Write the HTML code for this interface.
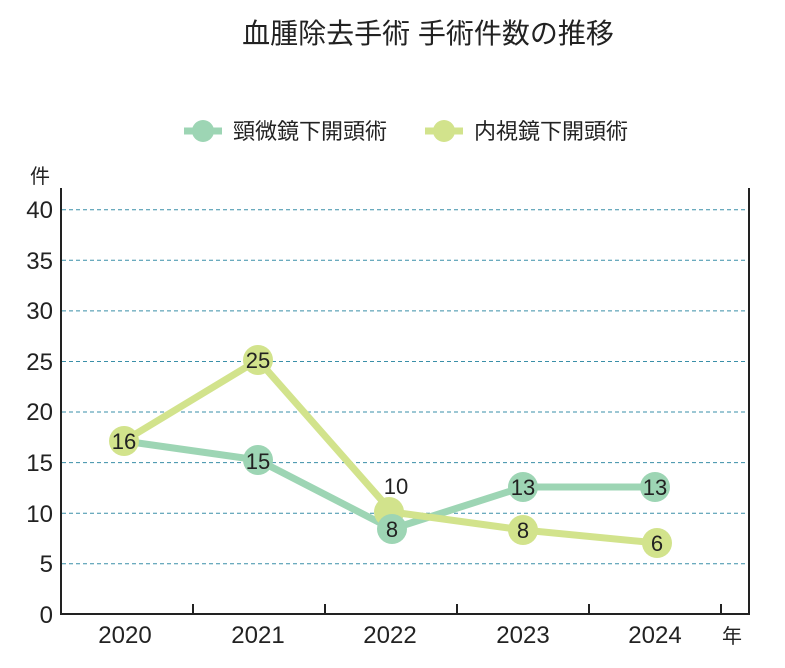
<!DOCTYPE html>
<html><head><meta charset="utf-8"><style>
body{margin:0;background:#fff}
svg text{font-family:"Liberation Sans","Noto Sans CJK JP",sans-serif;fill:#222}
</style></head><body>
<svg width="785" height="663" viewBox="0 0 785 663" xmlns="http://www.w3.org/2000/svg">
<text x="428" y="43" font-size="28" text-anchor="middle">血腫除去手術 手術件数の推移</text>
<line x1="184" y1="131" x2="222" y2="131" stroke="#9dd5b4" stroke-width="7"/>
<circle cx="203" cy="131" r="11" fill="#9dd5b4"/>
<text x="233" y="139" font-size="22">頸微鏡下開頭術</text>
<line x1="425" y1="131" x2="463" y2="131" stroke="#d2e38c" stroke-width="7"/>
<circle cx="444" cy="131" r="11" fill="#d2e38c"/>
<text x="474" y="139" font-size="22">内視鏡下開頭術</text>
<text x="30" y="183" font-size="20">件</text>
<g stroke="#3a8fa8" stroke-width="1" stroke-dasharray="4,3">
<line x1="62" x2="748" y1="209.7" y2="209.7"/><line x1="62" x2="748" y1="260.3" y2="260.3"/>
<line x1="62" x2="748" y1="310.9" y2="310.9"/><line x1="62" x2="748" y1="361.5" y2="361.5"/>
<line x1="62" x2="748" y1="412" y2="412"/><line x1="62" x2="748" y1="462.6" y2="462.6"/>
<line x1="62" x2="748" y1="513.2" y2="513.2"/><line x1="62" x2="748" y1="563.8" y2="563.8"/>
</g>
<g font-size="24" text-anchor="end">
<text x="53" y="218">40</text><text x="53" y="269">35</text><text x="53" y="319">30</text>
<text x="53" y="370">25</text><text x="53" y="420">20</text><text x="53" y="471">15</text>
<text x="53" y="522">10</text><text x="53" y="572">5</text><text x="53" y="623">0</text>
</g>
<path d="M61 188V614H749V188" fill="none" stroke="#222" stroke-width="2"/>
<g stroke="#222" stroke-width="2">
<line x1="193" x2="193" y1="604" y2="614"/><line x1="325" x2="325" y1="604" y2="614"/>
<line x1="457" x2="457" y1="604" y2="614"/><line x1="589" x2="589" y1="604" y2="614"/>
<line x1="721" x2="721" y1="604" y2="614"/>
</g>
<g font-size="24" text-anchor="middle">
<text x="125" y="643">2020</text><text x="258" y="643">2021</text><text x="390" y="643">2022</text>
<text x="523" y="643">2023</text><text x="655" y="643">2024</text>
</g>
<text x="722" y="643" font-size="20">年</text>
<polyline points="124,441 258,460 392,529 523,487 655,487" fill="none" stroke="#9dd5b4" stroke-width="7" stroke-linejoin="round"/>
<polyline points="124,441 258,360 392,512 523,530 657,543" fill="none" stroke="#d2e38c" stroke-width="7" stroke-linejoin="round"/>
<g fill="#d2e38c"><circle cx="124" cy="441" r="15"/><circle cx="258" cy="360" r="15"/><circle cx="389" cy="512" r="15"/><circle cx="523" cy="530" r="15"/><circle cx="657" cy="543" r="15"/></g>
<g fill="#9dd5b4"><circle cx="258" cy="460" r="15"/><circle cx="392" cy="529" r="15"/><circle cx="523" cy="487" r="15"/><circle cx="655" cy="487" r="15"/></g>
<g font-size="22" text-anchor="middle">
<text x="124" y="449">16</text><text x="258" y="368">25</text><text x="258" y="469">15</text>
<text x="396" y="494">10</text><text x="392" y="537">8</text><text x="523" y="495">13</text>
<text x="655" y="495">13</text><text x="523" y="538">8</text><text x="657" y="551">6</text>
</g>
</svg>
</body></html>
